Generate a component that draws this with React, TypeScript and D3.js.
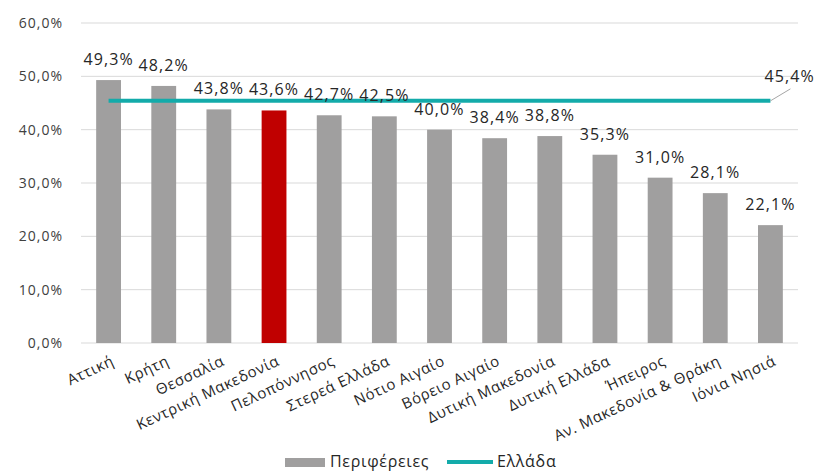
import React from "react";
import * as d3 from "d3";

const categories = [
  "Αττική", "Κρήτη", "Θεσσαλία", "Κεντρική Μακεδονία", "Πελοπόννησος",
  "Στερεά Ελλάδα", "Νότιο Αιγαίο", "Βόρειο Αιγαίο", "Δυτική Μακεδονία",
  "Δυτική Ελλάδα", "Ήπειρος", "Αν. Μακεδονία & Θράκη", "Ιόνια Νησιά",
];
const regionValues = [49.3, 48.2, 43.8, 43.6, 42.7, 42.5, 40.0, 38.4, 38.8, 35.3, 31.0, 28.1, 22.1];
const greeceValue = 45.4;
const yTicks = [0, 10, 20, 30, 40, 50, 60];
const highlighted = "Κεντρική Μακεδονία";
const legendLabels = ["Περιφέρειες", "Ελλάδα"];

const W = 833, H = 471;
const margin = { left: 81, right: 35, top: 23, bottom: 128 };
const FONT = "'Open Sans', sans-serif";
const TEAL = "#13ABAA";
const GRAY = "#A09F9F";
const RED = "#C00000";

const fmt = (v: number) => d3.format(".1f")(v).replace(".", ",") + "%";

export default function App() {
  const x = d3.scaleBand<string>()
    .domain(categories)
    .range([margin.left, W - margin.right])
    .paddingInner(0.55)
    .paddingOuter(0.275);
  const y = d3.scaleLinear().domain([0, 60]).range([H - margin.bottom, margin.top]);
  const bw = x.bandwidth();
  const cx = (c: string) => (x(c) as number) + bw / 2;

  const first = categories[0];
  const last = categories[categories.length - 1];
  const line = d3.line<string>().x((c) => cx(c)).y(() => y(greeceValue));

  const lx = cx(last), ly = y(greeceValue);

  return (
    <svg width={W} height={H} style={{ position: "absolute", left: 0, top: 0, background: "#fff" }}>
      {yTicks.map((t) => (
        <g key={t}>
          <line x1={margin.left} x2={W - margin.right} y1={y(t)} y2={y(t)}
            stroke="#D9D9D9" strokeWidth={1} />
          <text x={63} y={y(t)} dy="0.36em" textAnchor="end" fontFamily={FONT}
            fontSize={14} letterSpacing={1} fill="#404040">{fmt(t)}</text>
        </g>
      ))}
      {categories.map((c, i) => (
        <rect key={c} x={x(c)} y={y(regionValues[i])} width={bw}
          height={y(0) - y(regionValues[i])} fill={c === highlighted ? RED : GRAY} />
      ))}
      <path d={line([first, last]) || ""} stroke={TEAL} strokeWidth={4} fill="none" />
      {categories.map((c, i) => (
        <text key={c} x={cx(c)} y={y(regionValues[i]) - 15} textAnchor="middle"
          fontFamily={FONT} fontSize={16} letterSpacing={1.1} fill="#262626">{fmt(regionValues[i])}</text>
      ))}
      <line x1={lx} y1={ly} x2={lx + 20} y2={ly - 12} stroke="#A6A6A6" strokeWidth={1} />
      <text x={lx - 6} y={ly - 19} fontFamily={FONT} fontSize={16} letterSpacing={1.1}
        fill="#262626">{fmt(greeceValue)}</text>
      {categories.map((c) => (
        <text key={c} transform={`translate(${cx(c) + 2},${y(0) + 12}) rotate(-25)`}
          textAnchor="end" dy="0.7em" fontFamily={FONT} fontSize={15} letterSpacing={0.6}
          fill="#262626">{c}</text>
      ))}
      <rect x={285} y={458} width={40} height={9} fill={GRAY} />
      <text x={330} y={467} fontFamily={FONT} fontSize={16} letterSpacing={0.7} fill="#262626">{legendLabels[0]}</text>
      <line x1={447} x2={493} y1={462} y2={462} stroke={TEAL} strokeWidth={4} />
      <text x={497} y={467} fontFamily={FONT} fontSize={16} letterSpacing={0.7} fill="#262626">{legendLabels[1]}</text>
    </svg>
  );
}
